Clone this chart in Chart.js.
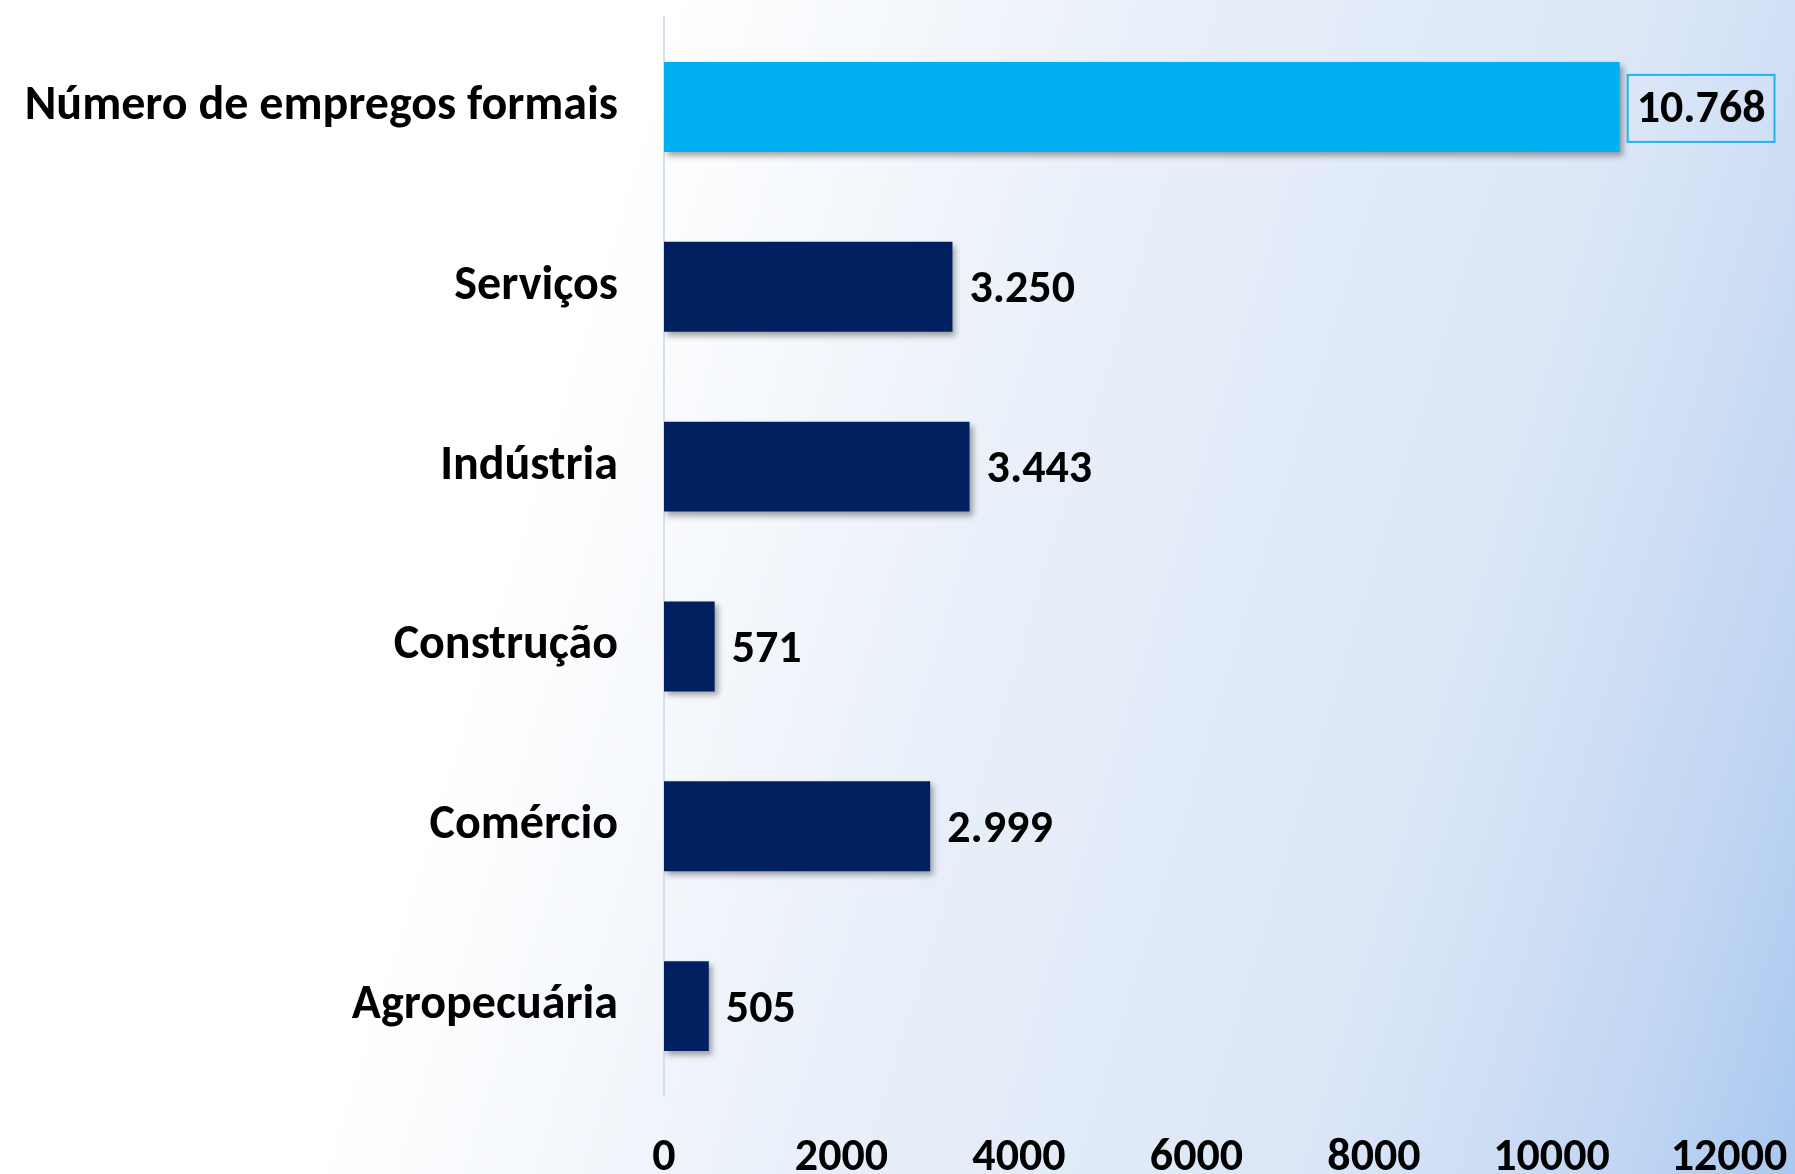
<!DOCTYPE html>
<html>
<head>
<meta charset="utf-8">
<script src="https://cdn.jsdelivr.net/npm/chart.js@4/dist/chart.umd.min.js"></script>
<style>
  html, body { margin: 0; padding: 0; }
  #wrap {
    width: 1795px; height: 1174px; position: relative;
    background: linear-gradient(107deg, #ffffff 0%, #ffffff 31%, #e8eff9 55%, #dbe7f7 77%, #c3d7f3 91%, #a9c8f0 100%);
  }
</style>
</head>
<body>
<div id="wrap"><canvas id="c"></canvas></div>
<script>
const categories = ['Número de empregos formais', 'Serviços', 'Indústria', 'Construção', 'Comércio', 'Agropecuária'];
const values = [10768, 3250, 3443, 571, 2999, 505];
const barColors = ['#00B0F0', '#002060', '#002060', '#002060', '#002060', '#002060'];
const axisMin = 0;
const axisMax = 12000;
const axisStep = 2000;

const FONT = 'Carlito, Calibri, Lato, sans-serif';

function fmt(v) {
  return String(v).replace(/\B(?=(\d{3})+(?!\d))/g, '.');
}

const shadowPlugin = {
  id: 'barShadow',
  beforeDatasetsDraw(chart) {
    const ctx = chart.ctx;
    ctx.save();
    ctx.shadowColor = 'rgba(0,0,0,0.35)';
    ctx.shadowBlur = 6;
    ctx.shadowOffsetX = 3;
    ctx.shadowOffsetY = 4;
  },
  afterDatasetsDraw(chart) {
    chart.ctx.restore();
  }
};

const labelPlugin = {
  id: 'valueLabels',
  afterDatasetsDraw(chart) {
    const ctx = chart.ctx;
    const meta = chart.getDatasetMeta(0);
    ctx.save();
    ctx.font = 'bold 46px ' + FONT;
    ctx.fillStyle = '#000';
    ctx.textBaseline = 'middle';
    ctx.textAlign = 'left';
    meta.data.forEach((bar, i) => {
      const txt = fmt(chart.data.datasets[0].data[i]);
      if (i === 0) {
        const w = ctx.measureText(txt).width;
        const bx = bar.x + 8;
        ctx.strokeStyle = '#1fb4ee';
        ctx.lineWidth = 2;
        ctx.strokeRect(bx, bar.y - 32, w + 18, 67);
        ctx.fillText(txt, bx + 9, bar.y + 4);
      } else {
        ctx.fillText(txt, bar.x + 17, bar.y + 4);
      }
    });
    ctx.restore();
  }
};

new Chart(document.getElementById('c'), {
  type: 'bar',
  data: {
    labels: categories,
    datasets: [{
      data: values,
      backgroundColor: barColors,
      borderWidth: 0,
      barPercentage: 0.5,
      categoryPercentage: 1.0
    }]
  },
  options: {
    indexAxis: 'y',
    responsive: true,
    maintainAspectRatio: false,
    animation: false,
    events: [],
    layout: { padding: { top: 17, right: 66, left: 0, bottom: 0 } },
    plugins: { legend: { display: false }, tooltip: { enabled: false } },
    scales: {
      x: {
        min: axisMin, max: axisMax,
        grid: { display: false, drawTicks: false },
        border: { display: false },
        ticks: {
          stepSize: axisStep,
          color: '#000',
          padding: 35,
          maxRotation: 0,
          font: { family: FONT, size: 46, weight: 'bold' },
          callback: (v) => String(v)
        },
        afterFit(scale) {
          scale.height = 78;
          scale.paddingLeft = 0;
          scale.paddingRight = 0;
        }
      },
      y: {
        grid: { display: false, drawTicks: false },
        border: { display: true, color: '#d3e0ee', width: 2 },
        ticks: {
          color: '#000',
          padding: 46,
          font: { family: FONT, size: 48, weight: 'bold' }
        },
        afterFit(scale) {
          scale.width = 664;
          scale.paddingTop = 0;
          scale.paddingBottom = 0;
        }
      }
    }
  },
  plugins: [shadowPlugin, labelPlugin]
});
</script>
</body>
</html>
